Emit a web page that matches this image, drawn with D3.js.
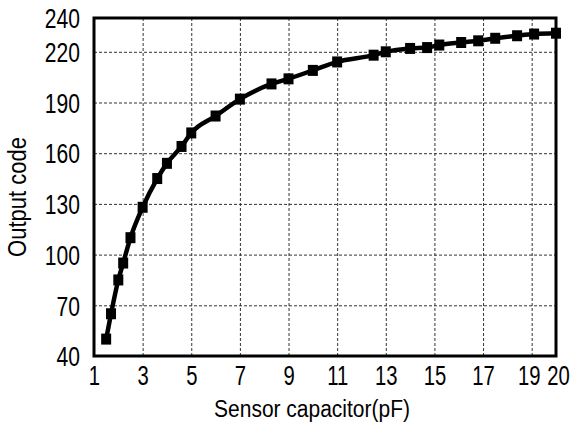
<!DOCTYPE html>
<html>
<head>
<meta charset="utf-8">
<script src="https://cdn.jsdelivr.net/npm/d3@7"></script>
<style>
  body { margin: 0; background: #fff; }
  svg text { font-family: "Liberation Sans", Arial, sans-serif; fill: #000; }
</style>
</head>
<body>
<svg id="chart" width="574" height="425"></svg>
<script>
// sensor capacitance (pF) vs output code
var capValues = [1.5, 1.7, 2.0, 2.2, 2.5, 3.0, 3.6, 4.0, 4.6, 5.0, 6.0, 7.0, 8.3, 9.0, 10.0,
                 11.0, 12.5, 13.0, 14.0, 14.7, 15.2, 16.1, 16.8, 17.5, 18.4, 19.1, 20.0];
var codeValues = [50, 65, 85, 95, 110, 128, 145, 154, 164, 172, 182, 192, 201, 204, 209,
                  214, 218, 220, 222, 222.5, 224, 225.5, 226.5, 228, 229.5, 230.5, 231];
var xTicks = [1, 3, 5, 7, 9, 11, 13, 15, 17, 19, 20];
var yTicks = [40, 70, 100, 130, 160, 190, 220, 240];
var xTitle = "Sensor capacitor(pF)";
var yTitle = "Output code";

var svg = d3.select("#chart");
var margin = {top: 18, right: 18, bottom: 69, left: 94};
var width = +svg.attr("width") - margin.left - margin.right;
var height = +svg.attr("height") - margin.top - margin.bottom;

var g = svg.append("g").attr("transform", "translate(" + margin.left + "," + margin.top + ")");

var x = d3.scaleLinear().domain([1, 20]).range([0, width]);
var y = d3.scaleLinear().domain([40, 240]).range([height, 0]);

// dashed grid
g.append("g")
    .attr("class", "grid")
    .attr("transform", "translate(0," + height + ")")
    .call(d3.axisBottom(x).tickValues(xTicks.slice(1, -1)).tickSize(-height).tickFormat(""))
    .call(function (a) { a.select(".domain").remove(); });

g.append("g")
    .attr("class", "grid")
    .call(d3.axisLeft(y).tickValues(yTicks.slice(1, -1)).tickSize(-width).tickFormat(""))
    .call(function (a) { a.select(".domain").remove(); });

g.selectAll(".grid line")
    .attr("stroke", "#333")
    .attr("stroke-width", 1)
    .attr("stroke-dasharray", "3,2");

// tick labels (narrow, tall digits like the original)
var xAxis = g.append("g")
    .attr("transform", "translate(0," + height + ")")
    .call(d3.axisBottom(x).tickValues(xTicks).tickSize(0).tickFormat(d3.format("d")));
xAxis.select(".domain").remove();
xAxis.selectAll("text")
    .attr("y", null).attr("dy", null)
    .attr("font-size", 27)
    .attr("transform", function (d) {
        // 19 and 20 sit close together, spread them a little
        var shift = d === 19 ? -3 : (d === 20 ? 2 : 0);
        return "translate(" + shift + ",29) scale(0.75,1)";
    });

var yAxis = g.append("g")
    .call(d3.axisLeft(y).tickValues(yTicks).tickSize(0).tickFormat(d3.format("d")));
yAxis.select(".domain").remove();
yAxis.selectAll("text")
    .attr("x", null).attr("dy", null)
    .attr("font-size", 27)
    .attr("transform", "translate(-14,9.7) scale(0.78,1)");

// frame
g.append("rect")
    .attr("width", width)
    .attr("height", height)
    .attr("fill", "none")
    .attr("stroke", "#000")
    .attr("stroke-width", 3);

// data line
var line = d3.line()
    .x(function (d, i) { return x(capValues[i]); })
    .y(function (d) { return y(d); })
    .curve(d3.curveMonotoneX);

g.append("path")
    .datum(codeValues)
    .attr("fill", "none")
    .attr("stroke", "#000")
    .attr("stroke-width", 4.5)
    .attr("stroke-linejoin", "round")
    .attr("d", line);

g.selectAll(".pt")
    .data(codeValues)
    .enter().append("rect")
    .attr("class", "pt")
    .attr("x", function (d, i) { return x(capValues[i]) - 5; })
    .attr("y", function (d) { return y(d) - 5.5; })
    .attr("width", 10)
    .attr("height", 11)
    .attr("fill", "#000");

// axis titles
svg.append("text")
    .attr("text-anchor", "middle")
    .attr("font-size", 21)
    .attr("transform", "translate(312,417) scale(1,1.15)")
    .text(xTitle);

svg.append("text")
    .attr("text-anchor", "middle")
    .attr("font-size", 22)
    .attr("transform", "translate(26,197) rotate(-90) scale(1,1.15)")
    .text(yTitle);
</script>
</body>
</html>
